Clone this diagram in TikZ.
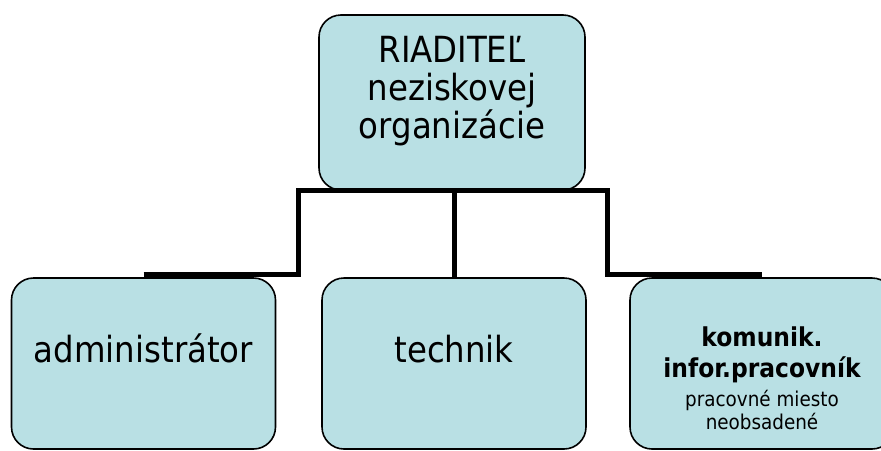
\documentclass[tikz,border=0pt]{standalone}
\usepackage{fontspec}
\setmainfont{DejaVu Sans Condensed}
\usetikzlibrary{calc}
\definecolor{orgblue}{RGB}{185,224,228}

\begin{document}
\begin{tikzpicture}[x=0.75pt,y=-0.75pt,
    org/.style={draw,line width=1.2pt,fill=orgblue,rounded corners=16.5pt,
      minimum width=198pt,minimum height=128.25pt,align=center,
      font={\fontsize{27}{28.5}\selectfont\lineskiplimit=-20pt}},
    link/.style={line width=3.75pt}]
  \useasboundingbox (0,0) rectangle (881,450);
  \node[org,minimum width=199.5pt,minimum height=131.25pt,text height=77.25pt,text depth=24pt](riad) at (452,102.5){RIADITEĽ\\neziskovej\\organizácie};
  \node[org,text height=21pt,text depth=23.25pt](admin) at (143.5,363.5){administrátor};
  \node[org,text height=21pt,text depth=23.25pt](tech) at (454,363.5){technik};
  \node[org,text height=98.25pt,text depth=0pt,
        font={\fontsize{15.3}{17.25}\selectfont\lineskiplimit=-20pt}](komun) at (762,363.5)
        {{\bfseries\fontsize{19.5}{20}\selectfont komunik.}\\[6pt]
         {\bfseries\fontsize{19.5}{20}\selectfont infor.pracovník}\\[4.5pt]
         pracovné miesto\\neobsadené};
  % elbow from the left box over the top box to the right box
  \draw[link] ($(admin.north)+(0,-2.5)$) -| ($(riad.south)+(-153.5,0)$) -- ($(riad.south)+(155,0)$) |- ($(komun.north)+(0,-2.5)$);
  \draw[link] (tech.north) -- (tech.north |- riad.south);
\end{tikzpicture}
\end{document}
